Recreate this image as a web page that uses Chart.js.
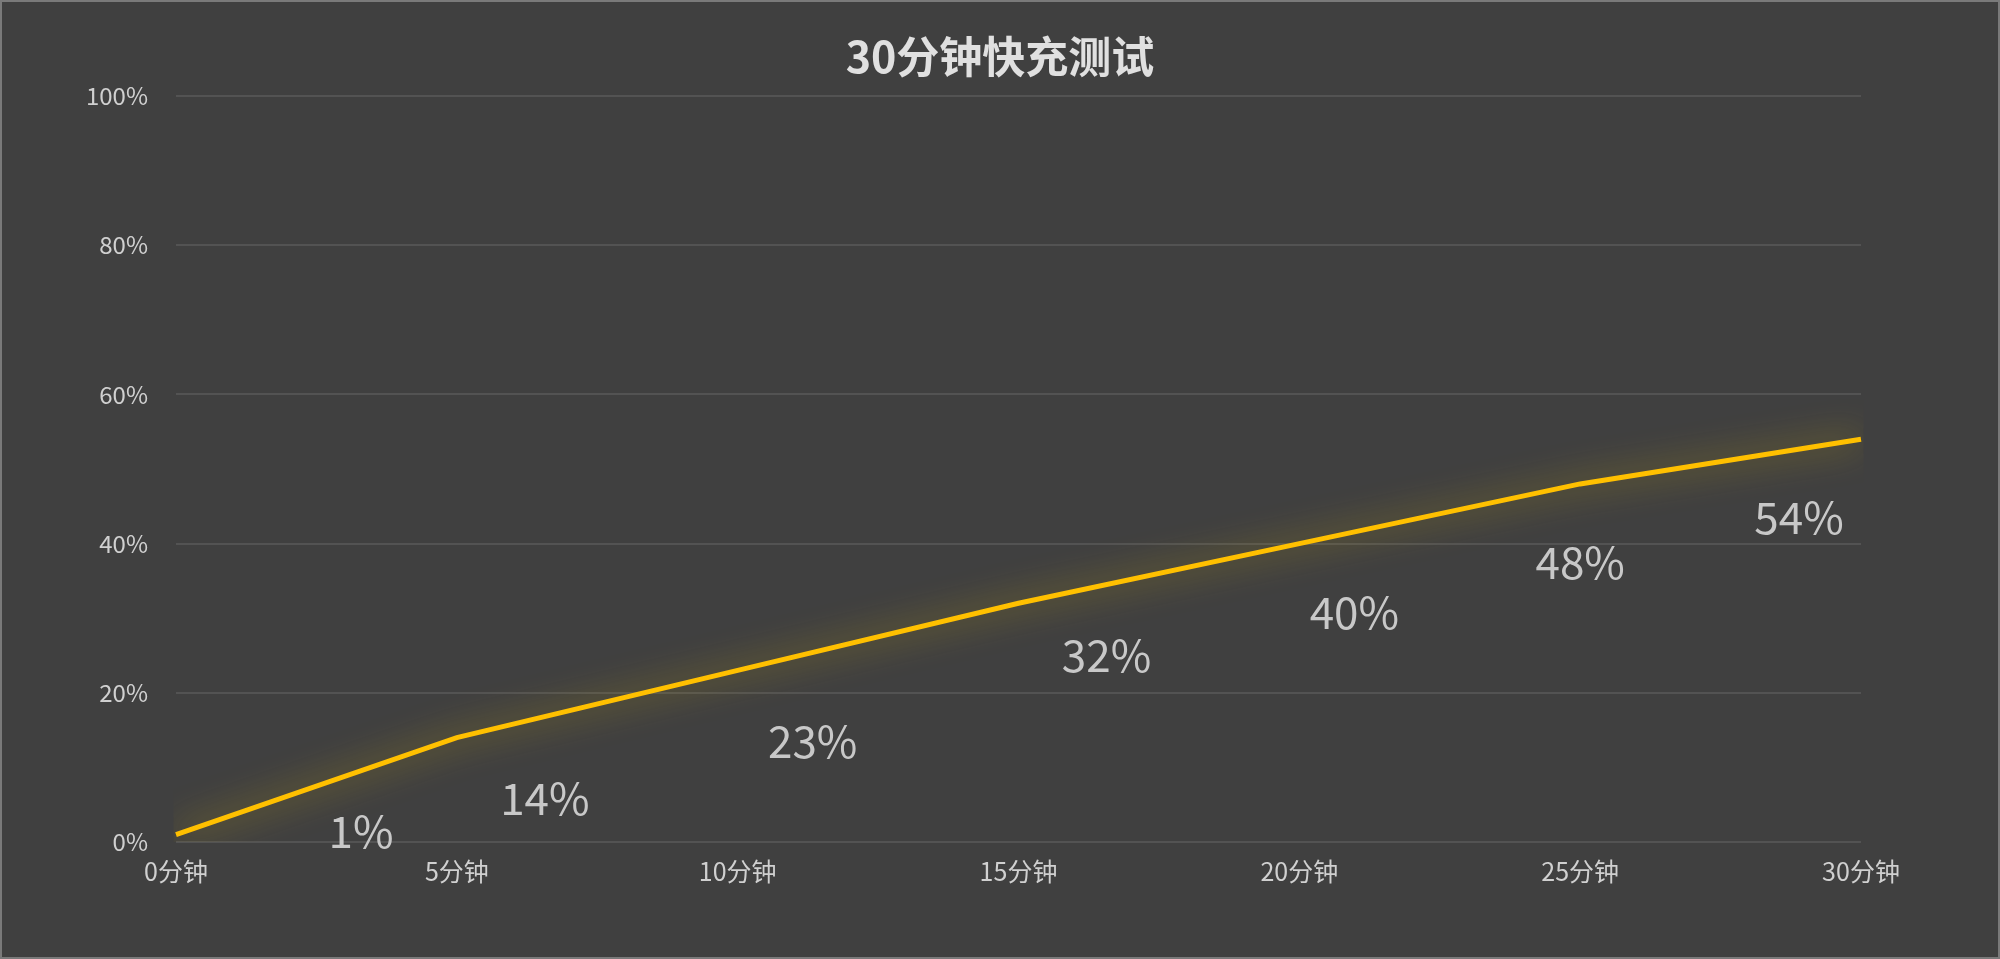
<!DOCTYPE html>
<html><head><meta charset="utf-8">
<script src="https://cdn.jsdelivr.net/npm/chart.js@4/dist/chart.umd.min.js"></script>
<style>html,body{margin:0;padding:0;background:#404040;overflow:hidden}#w{width:2000px;height:959px}</style>
</head><body><div id="w"><canvas id="c"></canvas></div>
<script>
const categories = ['0分钟','5分钟','10分钟','15分钟','20分钟','25分钟','30分钟'];
const values = [1,14,23,32,40,48,54];
const labelText = ['1%','14%','23%','32%','40%','48%','54%'];
const title = '30分钟快充测试';
const FONT = '"Noto Sans CJK SC","Noto Sans",sans-serif';
const dx = [185,88,75,88,55,0,-62];
const dy = [-3,61,71,52,69,78,78];

const deco = {
  id:'deco',
  beforeDraw(ch){const c=ch.ctx;c.save();c.fillStyle='#404040';c.fillRect(0,0,ch.width,ch.height);
    c.strokeStyle='#7a7a7a';c.lineWidth=2;c.strokeRect(1,1,ch.width-2,ch.height-2);c.restore();},
  beforeDatasetDraw(ch){const c=ch.ctx;c.save();c.shadowColor='rgba(230,190,0,0.75)';c.shadowBlur=34;},
  afterDatasetDraw(ch){ch.ctx.restore();},
  afterDraw(ch){const c=ch.ctx;c.save();
    c.fillStyle='#e0e0e0';c.font='bold 43px '+FONT;c.textAlign='center';c.textBaseline='middle';
    c.fillText(title,ch.width/2,57);
    c.fillStyle='#c8c8c8';c.font='44px '+FONT;
    ch.getDatasetMeta(0).data.forEach((p,i)=>{c.fillText(labelText[i],p.x+dx[i],p.y+dy[i]);});
    c.restore();}
};
new Chart(document.getElementById('c'),{
  type:'line',
  data:{labels:categories,datasets:[{data:values,borderColor:'#FFC000',borderWidth:5,pointRadius:0,tension:0,fill:false}]},
  options:{responsive:true,maintainAspectRatio:false,animation:false,
    layout:{padding:{top:96,right:139,left:0,bottom:0}},
    plugins:{legend:{display:false},title:{display:false},tooltip:{enabled:false}},
    scales:{
      x:{offset:false,grid:{display:false},border:{display:false},
        ticks:{color:'#d0d0d0',font:{size:25,family:FONT},maxRotation:0,padding:6},
        afterFit(s){s.height=117;}},
      y:{min:0,max:100,grid:{color:'#535353',lineWidth:2,drawTicks:false},border:{display:false},
        ticks:{stepSize:20,color:'#d0d0d0',font:{size:24,family:FONT},padding:28,callback:v=>v+'%'},
        afterFit(s){s.width=176;}}
    }},
  plugins:[deco]
});
</script></body></html>
